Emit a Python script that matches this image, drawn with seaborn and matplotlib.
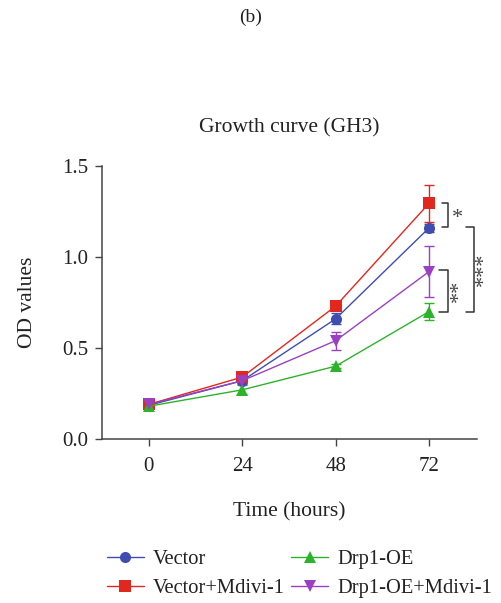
import numpy as np
import pandas as pd
import matplotlib
matplotlib.use("Agg")
import matplotlib.pyplot as plt
import seaborn as sns

hours = [0, 24, 48, 72]
groups = ["Vector", "Vector+Mdivi-1", "Drp1-OE", "Drp1-OE+Mdivi-1"]
vector = [0.185, 0.32, 0.66, 1.16]
vector_sd = [0.01, 0.02, 0.03, 0.02]
vector_mdivi = [0.19, 0.34, 0.73, 1.295]
vector_mdivi_sd = [0.01, 0.01, 0.02, 0.10]
drp1 = [0.18, 0.27, 0.40, 0.70]
drp1_sd = [0.01, 0.025, 0.01, 0.045]
drp1_mdivi = [0.19, 0.32, 0.54, 0.92]
drp1_mdivi_sd = [0.01, 0.01, 0.05, 0.14]

colors = ["#3F4DB0", "#E0281E", "#2DB32A", "#9B40C2"]
markers = ["o", "s", "^", "v"]

means = [vector, vector_mdivi, drp1, drp1_mdivi]
sds = [vector_sd, vector_mdivi_sd, drp1_sd, drp1_mdivi_sd]

df = pd.DataFrame({
    "Time": np.tile(hours, len(groups)),
    "OD": np.concatenate(means),
    "SD": np.concatenate(sds),
    "Group": np.repeat(groups, len(hours)),
})

sns.set_style("ticks")
plt.rcParams["font.family"] = ["Liberation Serif", "DejaVu Serif"]
txt = "#222222"

fig = plt.figure(figsize=(5.01, 6.03), dpi=100)
ax = fig.add_axes([0.2036, 0.272, 0.7484, 0.4527])

for g, c in zip(groups, colors):
    sub = df[df["Group"] == g]
    ax.errorbar(sub["Time"], sub["OD"], yerr=sub["SD"], fmt="none",
                ecolor=c, elinewidth=1.0, capsize=3.8, capthick=1.0, zorder=2)

sns.lineplot(data=df, x="Time", y="OD", hue="Group", style="Group",
             hue_order=groups, style_order=groups,
             palette=colors, markers=markers, dashes=False,
             markersize=8, markeredgewidth=0, linewidth=1.0,
             ax=ax, zorder=3)

ax.set_xlim(-12, 84.3)
ax.set_ylim(0, 1.5)
ax.set_xticks(hours)
ax.set_yticks([0.0, 0.5, 1.0, 1.5])
ax.set_yticklabels(["0.0", "0.5", "1.0", "1.5"])
ax.tick_params(axis="both", labelsize=15, length=5, width=1, colors="#444444",
               labelcolor=txt, direction="out")
ax.tick_params(axis="y", pad=5)
ax.tick_params(axis="x", pad=8)
for s in ["left", "bottom"]:
    ax.spines[s].set_color("#444444")
    ax.spines[s].set_linewidth(1.1)
sns.despine(ax=ax)

ax.set_xlabel("Time (hours)", fontsize=15.5, color=txt)
ax.xaxis.set_label_coords(0.5, -0.231)
ax.set_ylabel("OD values", fontsize=15.5, color=txt)
ax.yaxis.set_label_coords(-0.174, 0.5)
ax.text(0.5, 1.139, "Growth curve (GH3)", transform=ax.transAxes,
        ha="center", va="center", fontsize=15.5, color=txt)
fig.text(0.5, 1 - 17 / 603, "(b)", ha="center", va="center", fontsize=14,
         color=txt)

# significance brackets
def bracket(x0, x1, y0, y1, label, tx, rot=0, dy=0.0):
    ax.plot([x0, x1, x1, x0], [y0, y0, y1, y1], color="#333333", lw=1.1,
            clip_on=False)
    ax.text(tx, (y0 + y1) / 2 + dy, label, ha="center", va="center",
            rotation=rot, fontsize=16, color="#444444")

bracket(75.2, 76.9, 1.295, 1.165, "*", 79.4, dy=-0.02)
bracket(74.5, 76.8, 0.93, 0.70, "**", 79.8, rot=90)
bracket(81.6, 83.5, 1.165, 0.70, "***", 86.3, rot=90)

handles, labels = ax.get_legend_handles_labels()
leg = fig.legend(handles, labels, loc="center", bbox_to_anchor=(0.598, 1 - 574 / 603),
                 ncol=2, frameon=False, fontsize=14.8, handlelength=1.8,
                 columnspacing=0.3, handletextpad=0.45, labelspacing=0.45,
                 borderaxespad=0, borderpad=0)
ax.get_legend().remove()
for t in leg.get_texts():
    t.set_color(txt)

fig.savefig("out.png", dpi=100)
